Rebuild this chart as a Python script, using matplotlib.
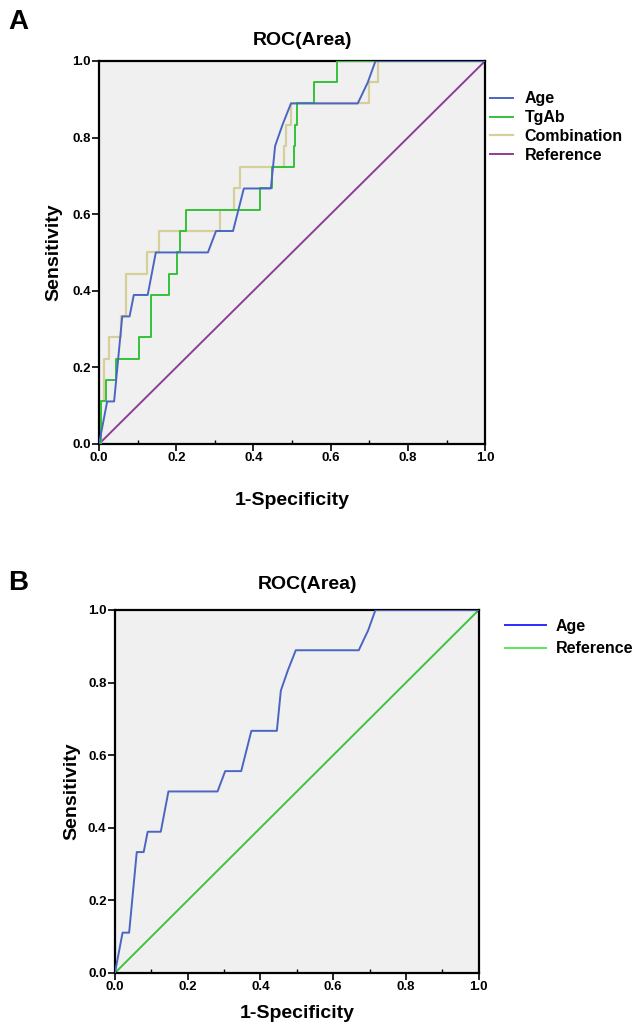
import matplotlib
matplotlib.use('Agg')
import matplotlib.pyplot as plt
from matplotlib.lines import Line2D
from matplotlib.ticker import MultipleLocator

plt.rcParams['font.family'] = ['Liberation Sans', 'DejaVu Sans']
plt.rcParams['font.weight'] = 'bold'

# ==================== 数据 ====================
# Age (两幅图相同)
age_fpr = [0, 0.021, 0.039, 0.060, 0.079, 0.090, 0.126, 0.147, 0.282, 0.303, 0.347,
           0.375, 0.445, 0.456, 0.475, 0.497, 0.670, 0.696, 0.716, 1.0]
age_tpr = [0, 0.111, 0.111, 0.333, 0.333, 0.389, 0.389, 0.500, 0.500, 0.556, 0.556,
           0.667, 0.667, 0.778, 0.833, 0.889, 0.889, 0.944, 1.0, 1.0]

# TgAb (阶梯)
tgab_fpr = [0, 0.004, 0.004, 0.019, 0.019, 0.045, 0.045, 0.103, 0.103, 0.134, 0.134,
            0.182, 0.182, 0.203, 0.203, 0.210, 0.210, 0.226, 0.226, 0.418, 0.418,
            0.447, 0.447, 0.505, 0.505, 0.508, 0.508, 0.512, 0.512, 0.558, 0.558,
            0.616, 0.616, 1.0]
tgab_tpr = [0, 0, 0.111, 0.111, 0.167, 0.167, 0.222, 0.222, 0.278, 0.278, 0.389,
            0.389, 0.444, 0.444, 0.500, 0.500, 0.556, 0.556, 0.611, 0.611, 0.667,
            0.667, 0.722, 0.722, 0.778, 0.778, 0.833, 0.833, 0.889, 0.889, 0.944,
            0.944, 1.0, 1.0]

# Combination (阶梯)
comb_fpr = [0, 0, 0.012, 0.012, 0.025, 0.025, 0.057, 0.057, 0.070, 0.070, 0.123,
            0.123, 0.154, 0.154, 0.3125, 0.3125, 0.349, 0.349, 0.365, 0.365, 0.478,
            0.478, 0.484, 0.484, 0.497, 0.497, 0.700, 0.700, 0.722, 0.722, 1.0]
comb_tpr = [0, 0.111, 0.111, 0.222, 0.222, 0.278, 0.278, 0.333, 0.333, 0.444, 0.444,
            0.500, 0.500, 0.556, 0.556, 0.611, 0.611, 0.667, 0.667, 0.722, 0.722,
            0.778, 0.778, 0.833, 0.833, 0.889, 0.889, 0.944, 0.944, 1.0, 1.0]

ref_x = [0, 1]
ref_y = [0, 1]

labels_a = ['Age', 'TgAb', 'Combination', 'Reference']
labels_b = ['Age', 'Reference']
ticks = [0.0, 0.2, 0.4, 0.6, 0.8, 1.0]

C_AGE = '#4a66c2'
C_TGAB = '#33c13a'
C_COMB = '#d6cf9c'
C_REF_A = '#8e3d97'
C_REF_B = '#3cc43c'
BG = '#f0f0f0'


def style_axes(ax):
    ax.set_facecolor(BG)
    ax.set_xlim(0, 1)
    ax.set_ylim(0, 1)
    ax.set_xticks(ticks)
    ax.set_yticks(ticks)
    ax.set_xticklabels([f'{t:.1f}' for t in ticks])
    ax.set_yticklabels([f'{t:.1f}' for t in ticks])
    ax.xaxis.set_minor_locator(MultipleLocator(0.1))
    ax.tick_params(which='major', direction='out', length=5, width=1.2,
                   labelsize=9.5, pad=1)
    ax.tick_params(which='minor', axis='x', direction='in', length=3, width=1)
    for lab in ax.get_xticklabels() + ax.get_yticklabels():
        lab.set_fontweight('bold')
    for sp in ax.spines.values():
        sp.set_linewidth(1.6)
    ax.set_xlabel('1-Specificity', fontsize=14, fontweight='bold')
    ax.set_ylabel('Sensitivity', fontsize=14, fontweight='bold')


fig = plt.figure(figsize=(6.35, 10.26), dpi=100)

# ==================== A ====================
ax1 = fig.add_axes([0.156, 0.5673, 0.608, 0.3733])
ax1.plot(age_fpr, age_tpr, color=C_AGE, lw=1.4, label=labels_a[0], zorder=4)
ax1.plot(tgab_fpr, tgab_tpr, color=C_TGAB, lw=1.4, label=labels_a[1], zorder=3)
ax1.plot(comb_fpr, comb_tpr, color=C_COMB, lw=1.6, label=labels_a[2], zorder=2)
ax1.plot(ref_x, ref_y, color=C_REF_A, lw=1.4, label=labels_a[3], zorder=1)
style_axes(ax1)
ax1.xaxis.set_label_coords(0.5, -0.126)
ax1.yaxis.set_label_coords(-0.096, 0.5)
ax1.text(0.527, 1.042, 'ROC(Area)', transform=ax1.transAxes, ha='center',
         va='baseline', fontsize=14, fontweight='bold')
fig.legend(loc='upper left', bbox_to_anchor=(0.772, 0.911), frameon=False,
           handlelength=1.4, handletextpad=0.75,
           labelspacing=0.24, borderpad=0, borderaxespad=0,
           prop={'weight': 'bold', 'size': 11.5})

# ==================== B ====================
ax2 = fig.add_axes([0.181, 0.0517, 0.573, 0.3538])
ax2.plot(age_fpr, age_tpr, color=C_AGE, lw=1.4, zorder=3)
ax2.plot(ref_x, ref_y, color=C_REF_B, lw=1.4, zorder=2)
style_axes(ax2)
ax2.xaxis.set_label_coords(0.5, -0.088)
ax2.yaxis.set_label_coords(-0.096, 0.5)
ax2.text(0.530, 1.058, 'ROC(Area)', transform=ax2.transAxes, ha='center',
         va='baseline', fontsize=14, fontweight='bold')
handles_b = [Line2D([], [], color='#2b2bff', lw=1.4),
             Line2D([], [], color='#5ae85a', lw=1.4)]
fig.legend(handles_b, labels_b, loc='upper left', bbox_to_anchor=(0.795, 0.3966),
           frameon=False, handlelength=2.6, handletextpad=0.6,
           labelspacing=0.45, borderpad=0, borderaxespad=0,
           prop={'weight': 'bold', 'size': 11.5})

# 面板字母
fig.text(0.0126, 0.9717, 'A', fontsize=20, fontweight='bold', va='baseline')
fig.text(0.0126, 0.425, 'B', fontsize=20, fontweight='bold', va='baseline')

fig.savefig('out.png', dpi=100, facecolor='white')
